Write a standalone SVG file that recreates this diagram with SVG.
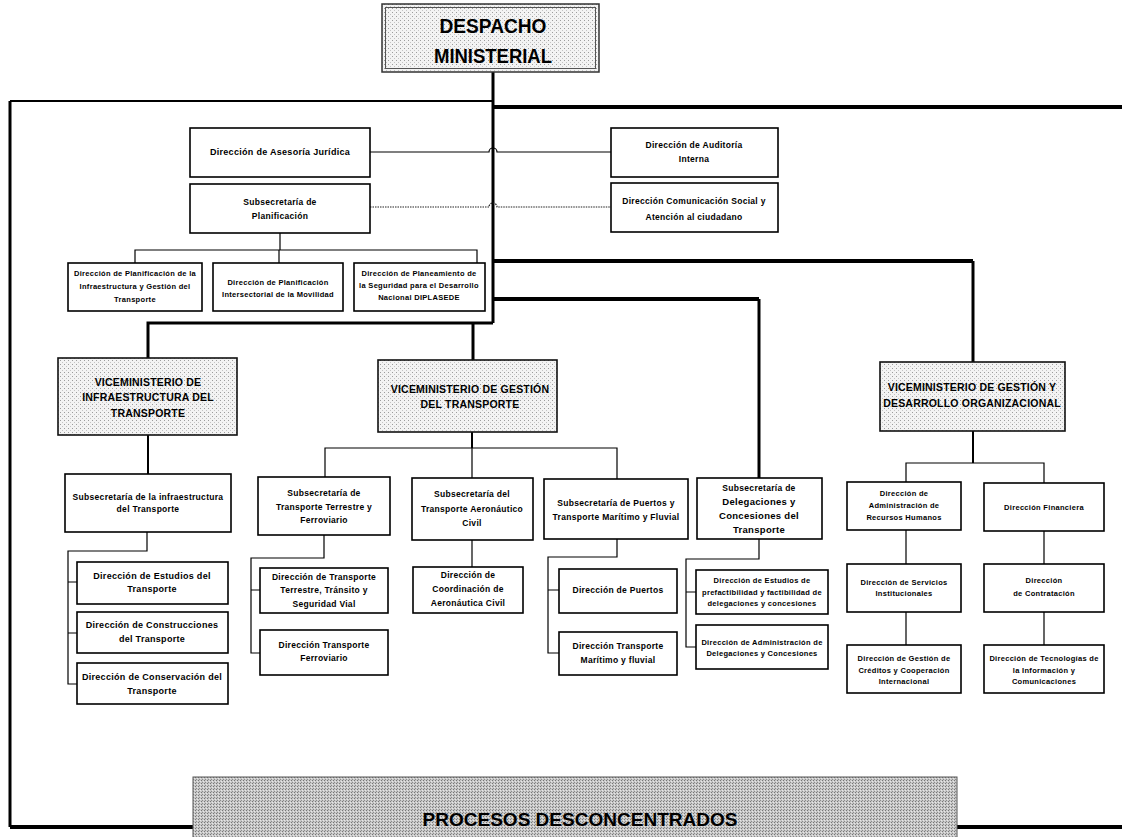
<svg xmlns="http://www.w3.org/2000/svg" width="1122" height="837" viewBox="0 0 1122 837">
<defs>
<pattern id="dots" width="4" height="4" patternUnits="userSpaceOnUse">
<rect width="4" height="4" fill="#f3f3f3"/>
<rect x="0" y="0" width="1" height="1" fill="#9c9c9c"/>
<rect x="2" y="2" width="1" height="1" fill="#c4c4c4"/>
</pattern>
<pattern id="dark" width="3" height="3" patternUnits="userSpaceOnUse">
<rect width="3" height="3" fill="#c8c8c8"/>
<rect x="0" y="0" width="1" height="1" fill="#777"/>
<rect x="1" y="2" width="1" height="1" fill="#8c8c8c"/>
<rect x="2" y="1" width="1" height="1" fill="#e6e6e6"/>
</pattern>
<style>
.box{fill:#fff;stroke:#000;stroke-width:1.6}
.vm{fill:url(#dots);stroke:#111;stroke-width:1.6}
.t{font-family:"Liberation Sans",Arial,sans-serif;font-weight:bold;fill:#000;text-anchor:middle}
.s75{font-size:7.5px;letter-spacing:0.3px}
.s85{font-size:8.5px;letter-spacing:0.3px}
.s9{font-size:9px;letter-spacing:0.3px}
.s95{font-size:9.5px;letter-spacing:0.3px}
.big{font-size:10.5px;letter-spacing:0.2px}
.title{font-size:20px}
.c1{fill:none;stroke:#000;stroke-width:1.2}
.c2{fill:none;stroke:#000;stroke-width:2}
.c3{fill:none;stroke:#000;stroke-width:3}
.c4{fill:none;stroke:#000;stroke-width:4}
.dot{fill:none;stroke:#222;stroke-width:1.2;stroke-dasharray:1.5 1}
</style>
</defs>
<rect width="1122" height="837" fill="#fff"/>

<g id="connectors">
<path class="c3" d="M493,72 V323"/>
<path class="c2" d="M10,101 H493"/>
<path class="c3" d="M10,101 V827"/>
<path class="c4" d="M10,827 H193"/>
<path class="c4" d="M957,827 H1122"/>
<path class="c4" d="M493,107 H1122"/>
<path class="c4" d="M493,261 H973"/>
<path class="c3" d="M973,261 V362"/>
<path class="c4" d="M493,299 H759"/>
<path class="c3" d="M759,299 V478"/>
<path class="c3" d="M148,358 V323 H493"/>
<path class="c3" d="M473,323 V360"/>
<path class="c1" d="M370,152 H489 A4,4 0 0 1 497,152 H611"/>
<path class="dot" d="M370,207 H489 A4,4 0 0 1 497,207 H611"/>
<path class="c1" d="M280,233 V250 M135,263 V250 H477 V263 M279,250 V263"/>
<path class="c2" d="M148,435 V474"/>
<path class="c1" d="M147,532 V551 H68 V684 H77 M68,582 H77 M68,633 H77"/>
<path class="c2" d="M472,432 V448"/>
<path class="c1" d="M325,477 V448 H617 V479 M472,448 V478"/>
<path class="c1" d="M324,535 V558 H251 V653 H260 M251,590 H260"/>
<path class="c1" d="M472,540 V567"/>
<path class="c1" d="M617,539 V557 H548 V653 H559 M548,590 H559"/>
<path class="c1" d="M759,539 V559 H686 V647 H696 M686,592 H696"/>
<path class="c2" d="M973,431 V463"/>
<path class="c1" d="M906,482 V463 H1044 V483"/>
<path class="c1" d="M906,530 V564 M906,612 V645 M1044,531 V564 M1044,612 V645"/>
</g>

<g id="despacho">
<rect x="382" y="4" width="217" height="68" fill="url(#dots)" stroke="#333" stroke-width="1.5"/>
<rect x="385.5" y="7.5" width="210" height="61" fill="none" stroke="#555" stroke-width="1"/>
<text class="t title" x="493" y="33" textLength="107" lengthAdjust="spacingAndGlyphs">DESPACHO</text>
<text class="t title" x="493" y="63" textLength="118" lengthAdjust="spacingAndGlyphs">MINISTERIAL</text>
</g>

<g id="asesoria">
<rect class="box" x="190" y="128" width="180" height="49"/>
<text class="t s9" x="280" y="155">Dirección de Asesoría Jurídica</text>
</g>
<g id="subsec-planificacion">
<rect class="box" x="190" y="184" width="180" height="49"/>
<text class="t s85" x="280" y="205">Subsecretaría de</text>
<text class="t s85" x="280" y="219">Planificación</text>
</g>
<g id="auditoria">
<rect class="box" x="611" y="128" width="167" height="49"/>
<text class="t s85" x="694" y="148">Dirección de Auditoría</text>
<text class="t s85" x="694" y="162">Interna</text>
</g>
<g id="comunicacion">
<rect class="box" x="611" y="183" width="167" height="49"/>
<text class="t s85" x="694" y="204">Dirección Comunicación Social y</text>
<text class="t s85" x="694" y="220">Atención al ciudadano</text>
</g>
<g id="dir-plan-infra">
<rect class="box" x="68" y="263" width="134" height="48"/>
<text class="t s75" x="135" y="276">Dirección de Planificación de la</text>
<text class="t s75" x="135" y="289">Infraestructura y Gestión del</text>
<text class="t s75" x="135" y="302">Transporte</text>
</g>
<g id="dir-plan-inter">
<rect class="box" x="213" y="263" width="130" height="48"/>
<text class="t s75" x="278" y="285">Dirección de Planificación</text>
<text class="t s75" x="278" y="297">Intersectorial de la Movilidad</text>
</g>
<g id="diplasede">
<rect class="box" x="354" y="263" width="131" height="48"/>
<text class="t s75" x="419" y="276">Dirección de  Planeamiento de</text>
<text class="t s75" x="419" y="288">la Seguridad para el Desarrollo</text>
<text class="t s75" x="419" y="300">Nacional DIPLASEDE</text>
</g>

<g id="vm-infraestructura">
<rect class="vm" x="58" y="358" width="179" height="77"/>
<text class="t big" x="148" y="386">VICEMINISTERIO DE</text>
<text class="t big" x="148" y="401">INFRAESTRUCTURA DEL</text>
<text class="t big" x="148" y="417">TRANSPORTE</text>
</g>
<g id="vm-gestion-transporte">
<rect class="vm" x="378" y="360" width="179" height="72"/>
<text class="t big" x="470" y="393">VICEMINISTERIO DE GESTIÓN</text>
<text class="t big" x="470" y="408">DEL TRANSPORTE</text>
</g>
<g id="vm-desarrollo">
<rect class="vm" x="880" y="362" width="185" height="69"/>
<text class="t big" x="972" y="391">VICEMINISTERIO DE GESTIÓN Y</text>
<text class="t big" x="972" y="407">DESARROLLO ORGANIZACIONAL</text>
</g>

<g id="subsec-infra">
<rect class="box" x="65" y="474" width="166" height="58"/>
<text class="t s85" x="148" y="500">Subsecretaría de la infraestructura</text>
<text class="t s85" x="148" y="512">del Transporte</text>
</g>
<g id="dir-estudios">
<rect class="box" x="77" y="562" width="151" height="42"/>
<text class="t s9" x="152" y="579">Dirección de Estudios del</text>
<text class="t s9" x="152" y="592">Transporte</text>
</g>
<g id="dir-construcciones">
<rect class="box" x="77" y="612" width="151" height="41"/>
<text class="t s9" x="152" y="628">Dirección de Construcciones</text>
<text class="t s9" x="152" y="642">del Transporte</text>
</g>
<g id="dir-conservacion">
<rect class="box" x="77" y="663" width="151" height="41"/>
<text class="t s9" x="152" y="680">Dirección de Conservación del</text>
<text class="t s9" x="152" y="694">Transporte</text>
</g>

<g id="subsec-terrestre">
<rect class="box" x="258" y="477" width="132" height="58"/>
<text class="t s85" x="324" y="496">Subsecretaría de</text>
<text class="t s85" x="324" y="510">Transporte Terrestre y</text>
<text class="t s85" x="324" y="523">Ferroviario</text>
</g>
<g id="dir-transito">
<rect class="box" x="260" y="568" width="128" height="45"/>
<text class="t s85" x="324" y="580">Dirección de Transporte</text>
<text class="t s85" x="324" y="593">Terrestre, Tránsito y</text>
<text class="t s85" x="324" y="607">Seguridad Vial</text>
</g>
<g id="dir-ferroviario">
<rect class="box" x="260" y="630" width="128" height="45"/>
<text class="t s85" x="324" y="648">Dirección Transporte</text>
<text class="t s85" x="324" y="661">Ferroviario</text>
</g>

<g id="subsec-aero">
<rect class="box" x="412" y="478" width="121" height="62"/>
<text class="t s85" x="472" y="497">Subsecretaría del</text>
<text class="t s85" x="472" y="512">Transporte Aeronáutico</text>
<text class="t s85" x="472" y="526">Civil</text>
</g>
<g id="dir-aero">
<rect class="box" x="413" y="567" width="110" height="46"/>
<text class="t s85" x="468" y="578">Dirección de</text>
<text class="t s85" x="468" y="592">Coordinación de</text>
<text class="t s85" x="468" y="606">Aeronáutica Civil</text>
</g>

<g id="subsec-puertos">
<rect class="box" x="544" y="479" width="144" height="60"/>
<text class="t s85" x="616" y="506">Subsecretaría de Puertos y</text>
<text class="t s85" x="616" y="520">Transporte Marítimo y Fluvial</text>
</g>
<g id="dir-puertos">
<rect class="box" x="559" y="569" width="118" height="44"/>
<text class="t s85" x="618" y="593">Dirección de Puertos</text>
</g>
<g id="dir-maritimo">
<rect class="box" x="559" y="632" width="118" height="43"/>
<text class="t s85" x="618" y="649">Dirección Transporte</text>
<text class="t s85" x="618" y="663">Marítimo y fluvial</text>
</g>

<g id="subsec-delegaciones">
<rect class="box" x="697" y="478" width="125" height="61"/>
<text class="t s85" x="759" y="491">Subsecretaría de</text>
<text class="t s95" x="759" y="505">Delegaciones y</text>
<text class="t s95" x="759" y="519">Concesiones del</text>
<text class="t s95" x="759" y="533">Transporte</text>
</g>
<g id="dir-prefactibilidad">
<rect class="box" x="696" y="570" width="132" height="44"/>
<text class="t s75" x="762" y="583">Dirección de Estudios de</text>
<text class="t s75" x="762" y="595">prefactibilidad y factibilidad de</text>
<text class="t s75" x="762" y="606">delegaciones y concesiones</text>
</g>
<g id="dir-admin-delegaciones">
<rect class="box" x="696" y="625" width="132" height="44"/>
<text class="t s75" x="762" y="645">Dirección de Administración de</text>
<text class="t s75" x="762" y="656">Delegaciones y Concesiones</text>
</g>

<g id="dir-rrhh">
<rect class="box" x="847" y="482" width="114" height="48"/>
<text class="t s75" x="904" y="496">Dirección de</text>
<text class="t s75" x="904" y="508">Administración de</text>
<text class="t s75" x="904" y="520">Recursos Humanos</text>
</g>
<g id="dir-financiera">
<rect class="box" x="984" y="483" width="120" height="48"/>
<text class="t s75" x="1044" y="510">Dirección Financiera</text>
</g>
<g id="dir-servicios">
<rect class="box" x="847" y="564" width="114" height="48"/>
<text class="t s75" x="904" y="585">Dirección de Servicios</text>
<text class="t s75" x="904" y="596">Institucionales</text>
</g>
<g id="dir-contratacion">
<rect class="box" x="984" y="564" width="120" height="48"/>
<text class="t s75" x="1044" y="583">Dirección</text>
<text class="t s75" x="1044" y="596">de Contratación</text>
</g>
<g id="dir-creditos">
<rect class="box" x="847" y="645" width="114" height="48"/>
<text class="t s75" x="904" y="661">Dirección de Gestión de</text>
<text class="t s75" x="904" y="673">Créditos y Cooperación</text>
<text class="t s75" x="904" y="684">Internacional</text>
</g>
<g id="dir-tic">
<rect class="box" x="984" y="645" width="120" height="48"/>
<text class="t s75" x="1044" y="661">Dirección de Tecnologías de</text>
<text class="t s75" x="1044" y="673">la Información y</text>
<text class="t s75" x="1044" y="684">Comunicaciones</text>
</g>

<g id="procesos">
<rect x="193" y="777" width="764" height="70" fill="url(#dark)" stroke="#555" stroke-width="1"/>
<text class="t" style="font-size:19px" x="580" y="826" textLength="315" lengthAdjust="spacingAndGlyphs">PROCESOS DESCONCENTRADOS</text>
</g>
</svg>
